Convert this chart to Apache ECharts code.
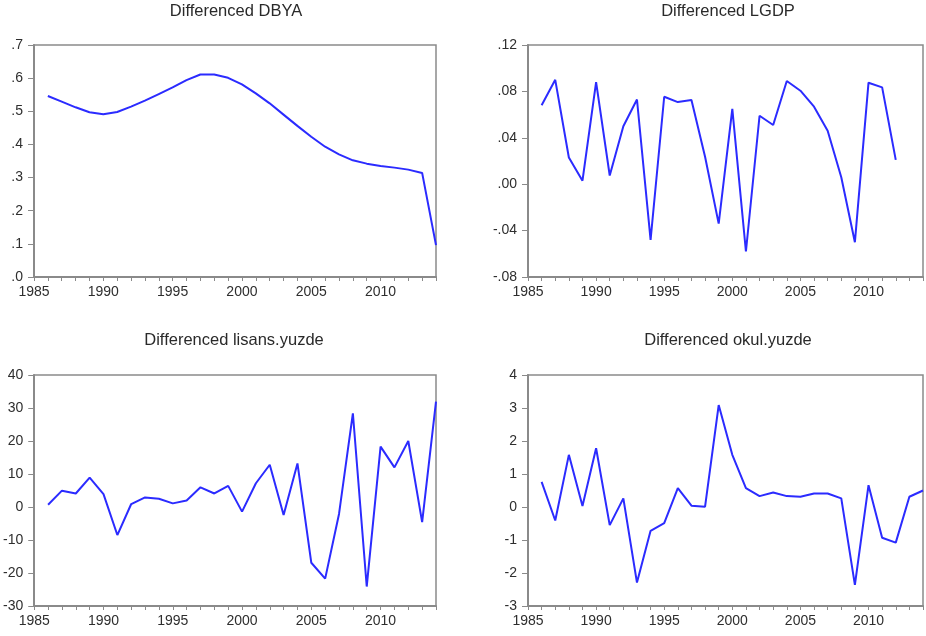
<!DOCTYPE html>
<html>
<head>
<meta charset="utf-8">
<script src="https://cdn.jsdelivr.net/npm/echarts@6/dist/echarts.min.js"></script>
<style>
html,body{margin:0;padding:0;background:#fff;}
#c{width:926px;height:636px;}
</style>
</head>
<body>
<div id="c"></div>
<script>
const years = [1986,1987,1988,1989,1990,1991,1992,1993,1994,1995,1996,1997,1998,1999,2000,2001,2002,2003,2004,2005,2006,2007,2008,2009,2010,2011,2012,2013,2014];
const titles = ['Differenced DBYA','Differenced LGDP','Differenced lisans.yuzde','Differenced okul.yuzde'];
const dbya = [0.546,0.529,0.512,0.497,0.491,0.498,0.514,0.532,0.552,0.572,0.594,0.611,0.611,0.601,0.581,0.554,0.524,0.490,0.456,0.423,0.393,0.370,0.352,0.342,0.335,0.330,0.324,0.314,0.096];
const lgdp = [0.068,0.090,0.023,0.003,0.088,0.0075,0.050,0.073,-0.048,0.0754,0.0708,0.0725,0.0236,-0.034,0.065,-0.058,0.059,0.051,0.089,0.0806,0.0668,0.046,0.006,-0.050,0.0875,0.0835,0.021];
const lisans = [0.7,4.95,4.1,8.9,3.9,-8.5,0.9,2.9,2.5,1.1,2.0,5.96,4.1,6.4,-1.4,7.2,12.8,-2.4,13.2,-16.9,-21.7,-2.1,28.4,-24.1,18.3,12.0,20.0,-4.6,31.9];
const okul = [0.76,-0.41,1.58,0.03,1.78,-0.55,0.26,-2.29,-0.72,-0.49,0.57,0.04,0.01,3.09,1.58,0.57,0.33,0.44,0.33,0.31,0.41,0.41,0.26,-2.36,0.66,-0.93,-1.08,0.31,0.50];
const yTicks = [
  {min:0, max:0.7, interval:0.1, dec:1},
  {min:-0.08, max:0.12, interval:0.04, dec:2},
  {min:-30, max:40, interval:10, dec:0},
  {min:-3, max:4, interval:1, dec:0}
];
const seriesData = [dbya, lgdp, lisans, okul];

const grids = [
  {left:34, top:45, width:402, height:232},
  {left:528, top:45, width:400, height:232},
  {left:34, top:375, width:402, height:231},
  {left:528, top:375, width:400, height:231}
];
const titlePos = [[236,11],[728,11],[234,340],[728,340]];

const axisColor = '#8a8a8a';
const textColor = '#2e2e2e';
const font = 'Liberation Sans, Arial, sans-serif';

function fmtY(v, dec){
  if (dec === 0) return String(Math.round(v));
  let s = Math.abs(v).toFixed(dec).replace(/^0/, '');
  return (v < -1e-9 ? '-' : '') + s;
}

const option = {
  animation:false,
  backgroundColor:'#fff',
  grid: grids.map(g => Object.assign({show:true, borderColor:axisColor, borderWidth:1.5, backgroundColor:'transparent'}, g)),
  xAxis: grids.map((g,i) => ({
    type:'value', gridIndex:i, min:1985, max:2014, interval:1,
    axisLine:{show:true, onZero:false, lineStyle:{color:axisColor, width:2}},
    axisTick:{show:true, inside:false, length:4, lineStyle:{color:axisColor, width:1}},
    splitLine:{show:false},
    axisLabel:{color:textColor, fontSize:14, fontFamily:font, margin:8,
      formatter: v => (Math.round(v) % 5 === 0 ? String(Math.round(v)) : '')}
  })),
  yAxis: yTicks.map((t,i) => ({
    type:'value', gridIndex:i, min:t.min, max:t.max, interval:t.interval,
    axisLine:{show:true, onZero:false, lineStyle:{color:axisColor, width:2}},
    axisTick:{show:true, inside:false, length:6, lineStyle:{color:axisColor, width:1}},
    splitLine:{show:false},
    axisLabel:{color:textColor, fontSize:14, fontFamily:font, margin:11,
      formatter: v => fmtY(v, t.dec)}
  })),
  series: seriesData.map((d,i) => ({
    type:'line', xAxisIndex:i, yAxisIndex:i, showSymbol:false, symbol:'none',
    data: d.map((v,k) => [years[k], v]),
    lineStyle:{color:'#2b2bff', width:2},
    clip:true
  })),
  graphic: titles.map((t,i) => ({
    type:'text', x:titlePos[i][0], y:titlePos[i][1],
    style:{text:t, fill:'#2a2a2a', font:'16.5px ' + font, align:'center', verticalAlign:'middle'}
  }))
};

const chart = echarts.init(document.getElementById('c'), null, {renderer:'canvas'});
chart.setOption(option);
</script>
</body>
</html>
